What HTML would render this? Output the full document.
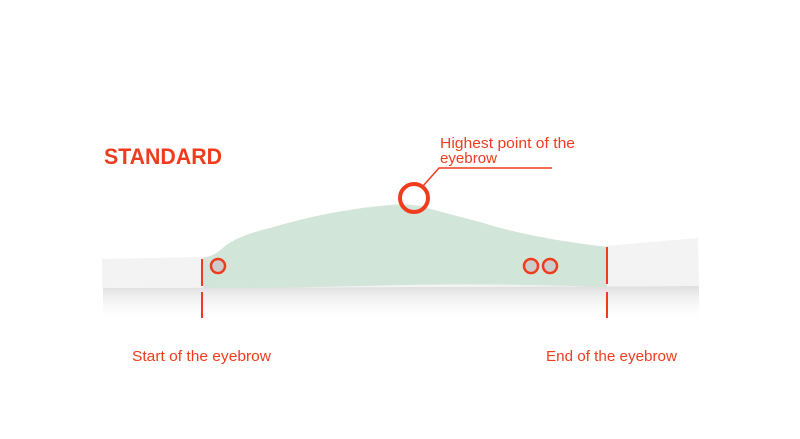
<!DOCTYPE html>
<html><head><style>
body{margin:0;background:#fff;}
svg{display:block}
text{font-family:"Liberation Sans",sans-serif;fill:#f03c1e}
</style></head><body>
<svg width="800" height="439" viewBox="0 0 800 439">
<defs>
<linearGradient id="sh" x1="0" y1="0" x2="0" y2="1">
<stop offset="0" stop-color="#d0d0d0" stop-opacity="0.7"/>
<stop offset="1" stop-color="#fff" stop-opacity="0"/>
</linearGradient>
</defs>
<rect width="800" height="439" fill="#fff"/>
<polygon points="103,288 699,286 699,322 103,322" fill="url(#sh)"/>
<polygon points="102,259 200,257 605,246 698,238 699,286 400,287 102,288" fill="#f3f3f3"/>
<path d="M203,288 L203,258 Q215,256 225,246 Q240,235 270,228 Q330,210 390,205 Q405,203 420,206 Q445,213 480,222 Q530,238 607,247 L607,287 Q500,283 400,285 Q300,288 203,288 Z" fill="#d1e5d8"/>
<text x="104" y="164" font-size="22" font-weight="bold" textLength="118" lengthAdjust="spacingAndGlyphs">STANDARD</text>
<text x="440" y="148" font-size="14.5" textLength="135" lengthAdjust="spacingAndGlyphs">Highest point of the</text>
<text x="440" y="163" font-size="14.5" textLength="57" lengthAdjust="spacingAndGlyphs">eyebrow</text>
<polyline points="552,168 439,168 423,186" fill="none" stroke="#f03c1e" stroke-width="1.5"/>
<circle cx="414" cy="198" r="14" fill="none" stroke="#f03c1e" stroke-width="4"/>
<circle cx="218" cy="266" r="7" fill="#ccc" stroke="#f03c1e" stroke-width="2.5"/>
<circle cx="531" cy="266" r="7" fill="#ccc" stroke="#f03c1e" stroke-width="2.5"/>
<circle cx="550" cy="266" r="7" fill="#ccc" stroke="#f03c1e" stroke-width="2.5"/>
<line x1="202" y1="259" x2="202" y2="286" stroke="#f03c1e" stroke-width="2"/>
<line x1="202" y1="292" x2="202" y2="318" stroke="#f03c1e" stroke-width="2"/>
<line x1="607" y1="247" x2="607" y2="284" stroke="#f03c1e" stroke-width="2"/>
<line x1="607" y1="292" x2="607" y2="318" stroke="#f03c1e" stroke-width="2"/>
<text x="132" y="361" font-size="14.5" textLength="139" lengthAdjust="spacingAndGlyphs">Start of the eyebrow</text>
<text x="546" y="361" font-size="14.5" textLength="131" lengthAdjust="spacingAndGlyphs">End of the eyebrow</text>
</svg>
</body></html>
